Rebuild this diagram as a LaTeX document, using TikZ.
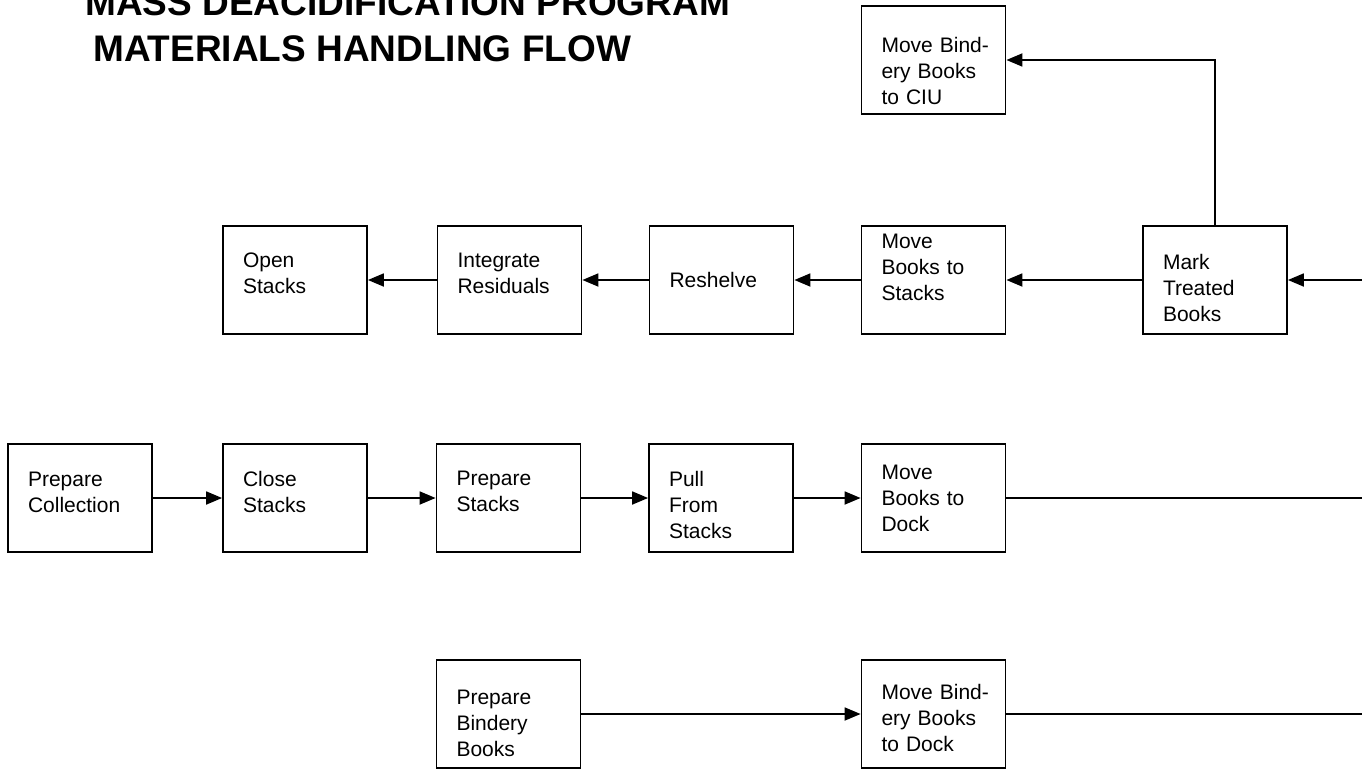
\documentclass[tikz,border=0pt]{standalone}
\usepackage{fontspec}
\setmainfont{Liberation Sans}
\usetikzlibrary{arrows.meta}
\begin{document}
\begin{tikzpicture}[x=1pt,y=-1pt,
  stepbox/.style={draw,line width=1.8pt,minimum width=144pt,minimum height=108pt,
    inner xsep=20pt,inner ysep=0pt,text width=104pt,align=left,
    font=\fontsize{21}{26}\selectfont},
  tdown/.style={execute at begin node={\rule{0pt}{#1}}},
  tup/.style={execute at end node={\rule[-#1]{0pt}{0pt}}},
  flow/.style={line width=1.8pt,-{Triangle[length=16pt,width=13pt]}},
  plain/.style={line width=1.8pt},
  title/.style={font=\bfseries\fontsize{37}{46}\selectfont,anchor=base west,inner sep=0pt}]
\useasboundingbox (0,0) rectangle (1362,770);
% title
\node[title] (t1) at (85,16) {MASS DEACIDIFICATION PROGRAM};
\node[title] (t2) at (93,62) {MATERIALS HANDLING FLOW};
% top
\node[stepbox,tdown=37pt] (ciu) at (933.5,60) {\mbox{Move Bind-}\\ery Books\\to CIU};
% row 1
\node[stepbox,tdown=31pt] (mark) at (1215,280) {Mark\\Treated\\Books};
\node[stepbox,tup=24.5pt] (mbs) at (933.5,280) {Move\\Books to\\Stacks};
\node[stepbox] (resh) at (721.5,280) {Reshelve};
\node[stepbox,tup=12.5pt] (integ) at (509.5,280) {Integrate\\Residuals};
\node[stepbox,tup=14.5pt] (open) at (295,280) {Open\\Stacks};
% row 2
\node[stepbox,tup=10.5pt] (pcoll) at (80,498) {Prepare\\Collection};
\node[stepbox,tup=12.5pt] (close) at (295,498) {Close\\Stacks};
\node[stepbox,tup=12.5pt] (pstacks) at (508.5,498) {Prepare\\Stacks};
\node[stepbox,tdown=29pt] (pull) at (721,498) {Pull\\From\\Stacks};
\node[stepbox] (mbd) at (933.5,498) {Move\\Books to\\Dock};
% row 3
\node[stepbox,tdown=33pt] (pbind) at (508.5,714) {Prepare\\Bindery\\Books};
\node[stepbox,tdown=23pt] (mbdock) at (933.5,714) {\mbox{Move Bind-}\\ery Books\\to Dock};
% free ends
\coordinate (in1) at (1362,280);
\coordinate (out2) at (1362,498);
\coordinate (out3) at (1362,714);
% connectors
\draw[flow] (in1) -- (mark.east);
\draw[flow] (mark.north) |- (ciu.east);
\draw[flow] (mark.west) -- (mbs.east);
\draw[flow] (mbs.west) -- (resh.east);
\draw[flow] (resh.west) -- (integ.east);
\draw[flow] (integ.west) -- (open.east);
\draw[flow] (pcoll.east) -- (close.west);
\draw[flow] (close.east) -- (pstacks.west);
\draw[flow] (pstacks.east) -- (pull.west);
\draw[flow] (pull.east) -- (mbd.west);
\draw[plain] (mbd.east) -- (out2);
\draw[flow] (pbind.east) -- (mbdock.west);
\draw[plain] (mbdock.east) -- (out3);
\end{tikzpicture}
\end{document}
